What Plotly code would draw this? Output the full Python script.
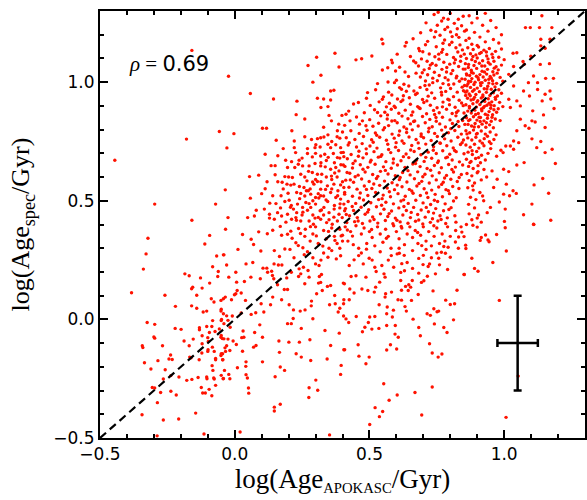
import plotly.graph_objects as go

# ---------------- data ----------------
# sparse lower-left region
pts_lowleft = [
    (-0.322, 0.342), (-0.329, 0.276), (-0.339, 0.212), (-0.383, 0.112), (-0.259, 0.102), (-0.220, 0.055), (-0.325, -0.013), (-0.297, -0.021), (-0.300, -0.074), (-0.297, -0.079),
    (-0.343, -0.111), (-0.341, -0.119), (-0.268, -0.111), (-0.221, -0.038), (-0.199, -0.042), (-0.238, -0.150), (-0.244, -0.167), (-0.232, -0.169), (-0.285, -0.174), (-0.335, -0.183),
    (-0.311, -0.209), (-0.258, -0.212), (-0.237, -0.237), (-0.207, -0.243), (-0.265, -0.251), (-0.306, -0.287), (-0.297, -0.289), (-0.275, -0.308), (-0.237, -0.303), (-0.217, -0.319),
    (-0.287, -0.351), (-0.344, -0.402), (-0.265, -0.424), (-0.208, -0.420), (-0.288, -0.491), (-0.185, 0.192), (-0.169, 0.184), (-0.160, 0.129), (-0.156, 0.136), (-0.127, 0.175),
    (-0.093, 0.354), (-0.111, 0.318), (-0.067, 0.267), (-0.042, 0.272), (-0.082, 0.222), (-0.061, 0.202), (-0.063, 0.181), (-0.093, 0.153), (-0.121, 0.132), (-0.141, 0.102),
    (-0.160, 0.057), (-0.141, 0.047), (-0.087, 0.087), (-0.077, 0.073), (-0.051, 0.080), (-0.042, 0.087), (-0.117, 0.031), (-0.104, 0.035), (-0.082, -0.005), (-0.051, 0.035),
    (-0.042, 0.024), (-0.050, -0.005), (-0.131, -0.035), (-0.131, -0.044), (-0.104, -0.030), (-0.085, -0.030), (-0.094, -0.055), (-0.073, -0.051), (-0.121, -0.069), (-0.100, -0.077),
    (-0.057, -0.040), (-0.051, -0.075), (-0.046, -0.081), (-0.188, -0.091), (-0.154, -0.083), (-0.169, -0.111), (-0.121, -0.103), (-0.098, -0.093), (-0.099, -0.128), (-0.100, -0.135),
    (-0.076, -0.135), (-0.083, -0.117), (-0.122, -0.142), (-0.167, -0.159), (-0.162, -0.162), (-0.132, -0.170), (-0.071, -0.165), (-0.071, -0.170), (-0.051, -0.152), (-0.045, -0.145),
    (-0.084, -0.195), (-0.081, -0.215), (-0.045, -0.170), (-0.178, -0.257), (-0.159, -0.253), (-0.136, -0.245), (-0.104, -0.243), (-0.103, -0.250), (-0.078, -0.247), (-0.076, -0.251),
    (-0.042, -0.249), (-0.071, -0.278), (-0.119, -0.310), (-0.109, -0.310), (-0.085, -0.322), (-0.095, -0.295), (-0.145, -0.395), (-0.114, -0.483), (-0.124, -0.287),
    (-0.159, 1.134), (-0.179, 0.760), (-0.057, 0.792), (-0.445, 0.671), (-0.297, 0.486), (-0.071, 0.486), (-0.159, 0.418),
]

# lower middle region
pts_lowmid = [
    (-0.034, 0.380), (0.029, 0.358), (-0.040, 0.272), (0.012, 0.295), (-0.030, 0.229), (0.061, 0.338), (0.070, 0.316), (0.089, 0.369), (0.121, 0.361), (0.141, 0.376),
    (0.169, 0.392), (0.174, 0.355), (0.196, 0.359), (0.208, 0.372), (0.237, 0.383), (0.244, 0.362), (0.262, 0.380), (0.097, 0.288), (0.147, 0.290), (0.166, 0.265),
    (0.186, 0.297), (0.205, 0.295), (0.227, 0.323), (0.253, 0.302), (0.042, 0.234), (0.067, 0.240), (0.105, 0.216), (0.119, 0.216), (0.146, 0.234), (0.162, 0.229),
    (0.175, 0.229), (0.122, 0.199), (0.137, 0.203), (-0.022, 0.178), (0.004, 0.199), (0.060, 0.178), (0.095, 0.171), (0.007, 0.157), (0.036, 0.160), (0.140, 0.185),
    (0.145, 0.171), (0.193, 0.175), (0.239, 0.213), (0.255, 0.220), (0.272, 0.206), (0.276, 0.178), (0.260, 0.150), (0.314, 0.181), (0.322, 0.189), (0.237, 0.181),
    (0.245, 0.192), (0.210, 0.199), (0.300, 0.234), (0.313, 0.227), (0.346, 0.262), (0.377, 0.255), (0.393, 0.268), (0.356, 0.143), (0.344, 0.139), (0.371, 0.101),
    (0.403, 0.153), (0.311, 0.153), (0.319, 0.156), (0.304, 0.108), (0.325, 0.122), (-0.035, 0.094), (0.004, 0.108), (0.009, 0.122), (-0.001, 0.104), (-0.012, 0.083),
    (0.024, 0.111), (0.040, 0.080), (-0.050, 0.043), (-0.030, 0.015), (-0.009, 0.014), (0.024, 0.027), (0.061, 0.021), (0.078, 0.028), (0.108, 0.031), (0.098, 0.066),
    (0.133, 0.062), (0.141, 0.094), (0.174, 0.083), (0.184, 0.126), (0.196, 0.126), (0.159, 0.146), (0.202, 0.062), (0.218, 0.040), (0.243, 0.035), (0.261, 0.040),
    (0.285, 0.077), (0.284, 0.057), (0.373, 0.066), (0.384, 0.031), (0.390, 0.047), (0.404, 0.066), (0.352, 0.062), (-0.049, 0.000), (-0.040, -0.018), (-0.025, -0.004),
    (-0.017, -0.033), (-0.050, -0.068), (-0.040, -0.082), (-0.025, -0.083), (-0.006, -0.091), (0.006, -0.106), (-0.036, -0.120), (-0.030, -0.111), (-0.050, -0.145), (-0.034, -0.135),
    (-0.018, -0.131), (-0.044, -0.170), (0.026, -0.077), (0.034, -0.075), (0.031, -0.049), (0.029, -0.134), (0.042, -0.179), (0.041, -0.198), (0.010, -0.204), (-0.038, -0.215),
    (-0.050, -0.236), (-0.022, -0.232), (-0.018, -0.250), (-0.043, -0.250), (0.042, -0.233), (0.047, -0.247), (0.051, -0.289), (0.052, -0.311), (0.074, -0.055), (0.093, -0.023),
    (0.070, -0.117), (0.079, -0.110), (0.103, -0.075), (0.103, -0.179), (0.164, -0.091), (0.166, -0.139), (0.169, -0.201), (0.185, -0.215), (0.196, -0.018), (0.210, -0.018),
    (0.217, 0.004), (0.201, -0.096), (0.228, -0.145), (0.240, -0.096), (0.247, -0.038), (0.247, -0.159), (0.279, -0.086), (0.282, -0.173), (0.290, 0.003), (0.335, -0.047),
    (0.343, -0.167), (0.356, -0.110), (0.388, -0.058), (0.405, -0.128), (0.395, -0.194), (0.393, -0.232), (0.276, -0.288), (0.308, -0.299), (0.275, -0.329), (0.301, -0.256),
    (0.150, -0.242), (0.147, -0.370), (0.147, -0.386), (0.169, -0.358), (0.020, -0.475), (0.352, -0.487),
    (0.28, 0.33), (0.29, 0.36), (0.30, 0.39), (0.31, 0.32), (0.33, 0.375), (0.34, 0.34), (0.35, 0.30), (0.36, 0.385), (0.37, 0.35), (0.38, 0.32),
    (0.39, 0.38), (0.27, 0.285), (0.33, 0.28), (0.36, 0.29), (0.39, 0.30), (0.22, 0.26), (0.29, 0.26), (0.32, 0.25), (0.40, 0.33), (0.26, 0.35),
]

# lower right region
pts_lowright = [
    (0.852, 0.189), (0.825, 0.123), (0.800, 0.063), (0.816, 0.066), (0.783, 0.081), (0.812, -0.002), (0.739, 0.045), (0.751, 0.032), (0.757, 0.035), (0.714, 0.024),
    (0.726, 0.017), (0.741, -0.019), (0.776, -0.034), (0.788, -0.055), (0.736, 0.120), (0.693, 0.156), (0.702, 0.163), (0.715, 0.182), (0.681, 0.105), (0.662, 0.001),
    (0.683, -0.034), (0.689, -0.069), (0.723, -0.103), (0.733, -0.142), (0.755, -0.159), (0.769, -0.146), (0.733, -0.285), (0.669, -0.308), (0.694, -0.403), (0.646, 0.146),
    (0.659, 0.164), (0.653, 0.136), (0.634, 0.139), (0.644, 0.122), (0.619, 0.123), (0.619, 0.081), (0.606, 0.083), (0.582, 0.115), (0.560, 0.108), (0.558, 0.094),
    (0.656, 0.080), (0.632, 0.054), (0.637, 0.035), (0.616, 0.164), (0.616, 0.198), (0.630, 0.205), (0.536, 0.062), (0.566, 0.052), (0.589, 0.039), (0.564, 0.024),
    (0.585, 0.010), (0.520, 0.012), (0.501, 0.010), (0.496, -0.013), (0.483, -0.033), (0.474, -0.052), (0.509, -0.041), (0.535, -0.038), (0.564, -0.026), (0.596, -0.026),
    (0.595, -0.062), (0.607, -0.075), (0.578, -0.107), (0.564, -0.129), (0.601, -0.125), (0.451, 0.012), (0.404, 0.014), (0.413, 0.002), (0.423, -0.013), (0.405, 0.083),
    (0.425, 0.083), (0.443, 0.111), (0.427, 0.128), (0.408, -0.128), (0.458, -0.107), (0.461, -0.155), (0.487, -0.187), (0.499, -0.159), (0.553, -0.271), (0.603, -0.319),
    (0.573, -0.341), (0.521, -0.372), (0.549, -0.388), (0.537, -0.410), (0.501, -0.443), (0.518, 0.115), (0.523, 0.136), (0.494, 0.122), (0.538, 0.157), (0.554, 0.192),
    (0.558, 0.178), (0.525, 0.202), (0.472, 0.128), (0.487, 0.178), (0.450, 0.184), (0.432, 0.181), (0.407, 0.150), (0.477, 0.234), (0.499, 0.258), (0.460, 0.269),
    (0.425, 0.227), (0.443, 0.251), (0.520, 0.220), (0.546, 0.227), (0.581, 0.269), (0.603, 0.276), (0.629, 0.270), (0.683, 0.257), (0.699, 0.231), (0.723, 0.234),
    (0.757, 0.258), (0.782, 0.279), (0.800, 0.262), (0.792, 0.304), (0.819, 0.326), (0.831, 0.347), (0.843, 0.368), (0.683, 0.195), (0.718, 0.223), (0.745, 0.192),
    (0.767, 0.283),
    (0.41, 0.39), (0.43, 0.37), (0.45, 0.395), (0.47, 0.36), (0.48, 0.385), (0.50, 0.37), (0.51, 0.345), (0.53, 0.39), (0.54, 0.36), (0.56, 0.38),
    (0.57, 0.35), (0.59, 0.395), (0.60, 0.37), (0.61, 0.34), (0.62, 0.385), (0.64, 0.36), (0.65, 0.39), (0.66, 0.345), (0.67, 0.375), (0.69, 0.355),
    (0.70, 0.39), (0.71, 0.33), (0.72, 0.37), (0.74, 0.35), (0.75, 0.385), (0.76, 0.32), (0.77, 0.36), (0.79, 0.39), (0.80, 0.35), (0.82, 0.375),
    (0.83, 0.30), (0.84, 0.39), (0.42, 0.33), (0.44, 0.315), (0.46, 0.30), (0.49, 0.32), (0.52, 0.31), (0.55, 0.325), (0.58, 0.30), (0.63, 0.315),
    (0.66, 0.29), (0.68, 0.32), (0.71, 0.295), (0.73, 0.31), (0.75, 0.28), (0.40, 0.355), (0.47, 0.28), (0.54, 0.285), (0.61, 0.30), (0.78, 0.33),
    (0.64, 0.24), (0.66, 0.215), (0.59, 0.22), (0.51, 0.25), (0.57, 0.25), (0.62, 0.235), (0.70, 0.27), (0.73, 0.26), (0.76, 0.23), (0.79, 0.21),
    (0.884, 0.397), (0.900, 0.389), (1.004, 0.386), (1.110, 0.400), (0.851, 0.349), (0.931, 0.356), (0.915, 0.345), (0.911, 0.333), (0.940, 0.335), (0.944, 0.327),
    (0.972, 0.358), (0.857, 0.313), (0.858, 0.299), (1.008, 0.288), (0.880, 0.258), (0.958, 0.240), (0.890, 0.215), (0.903, 0.203), (0.851, 0.189), (0.982, 0.080),
    (1.052, -0.239), (1.007, -0.413),
    (0.618, 0.392), (0.679, 0.366), (0.739, 0.395), (0.508, 0.379), (0.563, 0.342), (0.437, 0.351), (0.694, 0.311), (0.611, 0.279), (0.489, 0.296), (0.776, 0.307),
]

# upper left / middle region (x < 0.45)
pts_upleft = [
    (-0.023, 1.025), (0.372, 1.122), (0.304, 1.105), (0.387, 1.064), (0.272, 1.070), (0.320, 1.029), (0.290, 1.000), (0.058, 0.952), (0.144, 0.929), (0.231, 0.920),
    (0.307, 0.932), (0.103, 0.806), (0.118, 0.806), (-0.003, 0.783), (-0.029, 0.723), (0.154, 0.755), (0.212, 0.795), (0.228, 0.863), (0.260, 0.845), (0.113, 0.696),
    (0.135, 0.648), (0.150, 0.648), (0.055, 0.602), (0.089, 0.608), (-0.035, 0.546), (0.058, 0.511), (0.113, 0.551), (-0.025, 0.429), (0.048, 0.429), (0.073, 0.436),
    (0.330, 0.929), (0.356, 0.963), (0.368, 0.966), (0.356, 0.925), (0.346, 0.897), (0.320, 0.893),
    (0.398, 0.860), (0.359, 0.837), (0.386, 0.823), (0.381, 0.795), (0.390, 0.764), (0.346, 0.778), (0.331, 0.769), (0.307, 0.762), (0.319, 0.766), (0.285, 0.758),
    (0.301, 0.736), (0.298, 0.724), (0.317, 0.727), (0.346, 0.738), (0.356, 0.724), (0.375, 0.736), (0.393, 0.724), (0.270, 0.699), (0.288, 0.685), (0.319, 0.689),
    (0.334, 0.696), (0.366, 0.699), (0.381, 0.682), (0.395, 0.703), (0.405, 0.686), (0.221, 0.752), (0.221, 0.724), (0.226, 0.703), (0.239, 0.671), (0.236, 0.654),
    (0.189, 0.671), (0.211, 0.665), (0.252, 0.647), (0.276, 0.647), (0.288, 0.619), (0.307, 0.612), (0.319, 0.647), (0.336, 0.643), (0.356, 0.633), (0.375, 0.640),
    (0.387, 0.626), (0.403, 0.651), (0.196, 0.640), (0.223, 0.640), (0.186, 0.602), (0.214, 0.598), (0.245, 0.612), (0.268, 0.584), (0.294, 0.570), (0.307, 0.581),
    (0.319, 0.549), (0.344, 0.563), (0.368, 0.570), (0.393, 0.567), (0.383, 0.542), (0.408, 0.535), (0.194, 0.570), (0.208, 0.566), (0.230, 0.535), (0.245, 0.531),
    (0.257, 0.556), (0.273, 0.542), (0.282, 0.528), (0.300, 0.514), (0.319, 0.521), (0.339, 0.503), (0.356, 0.535), (0.375, 0.514), (0.393, 0.507), (0.405, 0.486),
    (0.141, 0.521), (0.153, 0.488), (0.172, 0.521), (0.186, 0.497), (0.202, 0.502), (0.218, 0.465), (0.233, 0.486), (0.252, 0.472), (0.264, 0.493), (0.282, 0.472),
    (0.300, 0.486), (0.317, 0.458), (0.331, 0.472), (0.350, 0.450), (0.369, 0.465), (0.387, 0.443), (0.399, 0.429), (0.408, 0.458), (0.110, 0.465), (0.129, 0.443),
    (0.159, 0.450), (0.174, 0.436), (0.196, 0.443), (0.211, 0.422), (0.227, 0.429), (0.245, 0.415), (0.276, 0.415), (0.292, 0.401), (0.319, 0.422), (0.341, 0.408),
    (0.362, 0.401), (0.381, 0.415), (0.129, 0.427), (0.147, 0.422),
    (0.16, 0.58), (0.18, 0.55), (0.20, 0.60), (0.22, 0.57), (0.24, 0.56), (0.26, 0.60), (0.28, 0.55), (0.30, 0.59), (0.32, 0.58), (0.34, 0.60),
    (0.36, 0.59), (0.38, 0.60), (0.40, 0.58), (0.17, 0.47), (0.19, 0.41), (0.21, 0.48), (0.23, 0.45), (0.25, 0.44), (0.27, 0.46), (0.29, 0.44),
    (0.31, 0.43), (0.33, 0.44), (0.35, 0.42), (0.37, 0.48), (0.39, 0.47), (0.26, 0.52), (0.29, 0.50), (0.31, 0.53), (0.33, 0.52), (0.36, 0.55),
    (0.25, 0.68), (0.27, 0.72), (0.30, 0.70), (0.32, 0.66), (0.34, 0.67), (0.37, 0.66), (0.39, 0.68), (0.36, 0.75), (0.38, 0.77), (0.40, 0.79),
    (0.13, 0.49), (0.10, 0.53), (0.12, 0.58), (0.15, 0.61), (0.08, 0.46), (0.16, 0.69), (0.18, 0.72), (0.26, 0.77), (0.33, 0.81), (0.35, 0.86),
    (0.213, 0.342), (0.236, 0.311), (0.258, 0.273), (0.281, 0.391), (0.303, 0.352), (0.327, 0.309), (0.348, 0.371), (0.372, 0.333), (0.395, 0.352), (0.418, 0.377),
    (0.229, 0.418), (0.253, 0.452), (0.276, 0.488), (0.298, 0.427), (0.322, 0.461), (0.345, 0.497), (0.368, 0.431), (0.391, 0.487), (0.414, 0.442), (0.436, 0.476),
    (0.241, 0.509), (0.266, 0.542), (0.289, 0.579), (0.312, 0.512), (0.337, 0.548), (0.359, 0.604), (0.382, 0.521), (0.405, 0.556), (0.429, 0.588), (0.274, 0.624),
    (0.298, 0.657), (0.323, 0.612), (0.347, 0.683), (0.371, 0.617), (0.394, 0.652), (0.417, 0.619), (0.439, 0.657), (0.198, 0.532), (0.176, 0.578), (0.207, 0.473),
]

# main band, 0.40 < x < 0.86
pts_band = [
    (0.74, 1.285), (0.775, 1.27), (0.80, 1.29), (0.83, 1.265), (0.755, 1.295),
    (0.71, 1.25), (0.752, 1.24), (0.768, 1.258), (0.79, 1.232), (0.815, 1.248), (0.842, 1.238), (0.826, 1.225),
    (0.69, 1.208), (0.728, 1.219), (0.762, 1.198), (0.801, 1.212), (0.823, 1.20), (0.853, 1.215), (0.78, 1.222),
    (0.662, 1.183), (0.716, 1.172), (0.741, 1.19), (0.779, 1.178), (0.806, 1.168), (0.832, 1.189), (0.858, 1.176), (0.637, 1.167), (0.686, 1.132),
    (0.632, 1.152), (0.683, 1.142), (0.708, 1.158), (0.748, 1.149), (0.772, 1.138), (0.797, 1.158), (0.821, 1.145), (0.845, 1.136), (0.546, 1.181), (0.55, 1.162),
    (0.45, 1.094), (0.471, 1.099), (0.509, 1.11), (0.585, 1.082), (0.548, 1.051), (0.568, 1.061), (0.597, 1.047), (0.632, 1.043), (0.53, 0.994), (0.569, 1.001),
    (0.60, 1.008), (0.664, 1.089), (0.696, 1.04), (0.646, 0.984), (0.665, 0.963), (0.708, 1.005), (0.735, 0.998), (0.619, 0.97),
    (0.603, 1.118), (0.652, 1.108), (0.698, 1.128), (0.722, 1.119), (0.743, 1.107), (0.768, 1.126), (0.787, 1.117), (0.812, 1.104), (0.828, 1.127), (0.852, 1.118),
    (0.582, 1.093), (0.672, 1.082), (0.693, 1.098), (0.714, 1.088), (0.733, 1.079), (0.758, 1.097), (0.776, 1.084), (0.798, 1.076), (0.819, 1.095), (0.838, 1.088), (0.856, 1.078),
    (0.612, 1.063), (0.682, 1.068), (0.703, 1.052), (0.722, 1.058), (0.747, 1.071), (0.769, 1.054), (0.787, 1.062), (0.809, 1.049), (0.831, 1.066), (0.848, 1.055),
    (0.645, 1.024), (0.673, 1.038), (0.689, 1.022), (0.716, 1.031), (0.741, 1.042), (0.759, 1.028), (0.781, 1.019), (0.803, 1.036), (0.824, 1.025), (0.843, 1.014), (0.861, 1.03),
    (0.593, 0.998), (0.628, 0.991), (0.722, 0.988), (0.752, 1.006), (0.773, 0.994), (0.792, 1.009), (0.813, 0.992), (0.834, 1.004), (0.853, 0.986),
    (0.523, 0.968), (0.571, 0.958), (0.612, 0.977), (0.637, 0.962), (0.688, 0.978), (0.713, 0.969), (0.731, 0.955), (0.764, 0.976), (0.783, 0.961), (0.801, 0.973), (0.826, 0.958), (0.844, 0.979), (0.862, 0.963),
    (0.493, 0.956), (0.489, 0.932), (0.459, 0.914), (0.428, 0.837), (0.425, 0.745), (0.413, 0.865), (0.474, 0.837), (0.487, 0.816), (0.519, 0.884), (0.53, 0.872), (0.548, 0.928), (0.563, 0.896),
    (0.552, 0.938), (0.583, 0.946), (0.604, 0.929), (0.626, 0.943), (0.648, 0.934), (0.671, 0.948), (0.697, 0.927), (0.718, 0.941), (0.742, 0.932), (0.768, 0.946), (0.791, 0.928), (0.812, 0.939), (0.833, 0.924), (0.857, 0.944),
    (0.441, 0.908), (0.503, 0.902), (0.536, 0.917), (0.574, 0.911), (0.592, 0.899), (0.617, 0.918), (0.652, 0.907), (0.679, 0.897), (0.702, 0.914), (0.726, 0.903), (0.751, 0.892), (0.773, 0.916), (0.797, 0.905), (0.818, 0.894), (0.842, 0.912),
    (0.423, 0.878), (0.481, 0.871), (0.557, 0.873), (0.581, 0.886), (0.609, 0.869), (0.633, 0.882), (0.661, 0.874), (0.688, 0.889), (0.712, 0.867), (0.738, 0.881), (0.759, 0.871), (0.786, 0.886), (0.807, 0.868), (0.829, 0.879), (0.851, 0.87),
    (0.452, 0.853), (0.501, 0.842), (0.542, 0.858), (0.566, 0.845), (0.594, 0.838), (0.621, 0.857), (0.643, 0.846), (0.668, 0.836), (0.697, 0.855), (0.724, 0.843), (0.748, 0.835), (0.771, 0.852), (0.799, 0.841), (0.821, 0.858), (0.846, 0.838),
    (0.408, 0.818), (0.463, 0.823), (0.513, 0.814), (0.534, 0.827), (0.571, 0.817), (0.603, 0.829), (0.628, 0.811), (0.652, 0.824), (0.681, 0.815), (0.707, 0.829), (0.733, 0.812), (0.761, 0.824), (0.782, 0.811), (0.808, 0.826), (0.832, 0.813), (0.854, 0.822),
    (0.431, 0.795), (0.462, 0.784), (0.491, 0.797), (0.522, 0.786), (0.551, 0.799), (0.584, 0.781), (0.612, 0.794), (0.638, 0.788), (0.659, 0.799), (0.692, 0.782), (0.719, 0.791), (0.742, 0.784), (0.768, 0.798), (0.793, 0.787), (0.817, 0.796), (0.841, 0.781),
    (0.414, 0.766), (0.446, 0.758), (0.478, 0.771), (0.508, 0.757), (0.538, 0.768), (0.563, 0.755), (0.592, 0.764), (0.621, 0.752), (0.647, 0.769), (0.673, 0.758), (0.701, 0.766), (0.729, 0.754), (0.752, 0.771), (0.779, 0.761), (0.803, 0.752), (0.828, 0.768), (0.849, 0.756),
    (0.421, 0.735), (0.452, 0.727), (0.473, 0.741), (0.502, 0.731), (0.528, 0.722), (0.568, 0.738), (0.597, 0.726), (0.628, 0.742), (0.657, 0.733), (0.684, 0.721), (0.709, 0.739), (0.738, 0.728), (0.762, 0.744), (0.787, 0.732), (0.811, 0.723), (0.838, 0.737),
    (0.403, 0.704), (0.432, 0.695), (0.461, 0.709), (0.489, 0.698), (0.517, 0.707), (0.546, 0.694), (0.579, 0.703), (0.608, 0.712), (0.636, 0.697), (0.666, 0.708), (0.691, 0.694), (0.718, 0.705), (0.748, 0.699), (0.772, 0.711), (0.798, 0.696), (0.822, 0.707), (0.851, 0.698),
    (0.418, 0.677), (0.447, 0.668), (0.476, 0.681), (0.506, 0.671), (0.533, 0.684), (0.561, 0.665), (0.589, 0.676), (0.617, 0.669), (0.646, 0.682), (0.674, 0.671), (0.703, 0.666), (0.731, 0.679), (0.756, 0.668), (0.783, 0.681), (0.807, 0.672), (0.834, 0.664),
    (0.409, 0.645), (0.437, 0.638), (0.466, 0.652), (0.494, 0.641), (0.521, 0.654), (0.552, 0.643), (0.581, 0.637), (0.604, 0.651), (0.632, 0.641), (0.661, 0.655), (0.688, 0.644), (0.714, 0.636), (0.741, 0.649), (0.767, 0.639), (0.794, 0.653), (0.819, 0.642), (0.846, 0.651),
    (0.427, 0.616), (0.458, 0.608), (0.484, 0.621), (0.512, 0.611), (0.541, 0.624), (0.569, 0.613), (0.596, 0.606), (0.623, 0.619), (0.651, 0.609), (0.679, 0.622), (0.706, 0.612), (0.733, 0.605), (0.759, 0.618), (0.786, 0.607), (0.812, 0.621), (0.841, 0.611),
    (0.412, 0.587), (0.441, 0.578), (0.471, 0.592), (0.499, 0.581), (0.526, 0.594), (0.556, 0.583), (0.584, 0.576), (0.611, 0.589), (0.639, 0.579), (0.667, 0.593), (0.694, 0.582), (0.722, 0.575), (0.748, 0.588), (0.774, 0.578), (0.802, 0.591), (0.826, 0.581),
    (0.424, 0.557), (0.454, 0.549), (0.481, 0.562), (0.509, 0.552), (0.538, 0.565), (0.566, 0.554), (0.593, 0.547), (0.621, 0.559), (0.648, 0.548), (0.676, 0.562), (0.703, 0.551), (0.731, 0.545), (0.757, 0.558), (0.784, 0.547), (0.809, 0.56),
    (0.408, 0.528), (0.437, 0.519), (0.466, 0.533), (0.494, 0.522), (0.523, 0.535), (0.551, 0.524), (0.578, 0.517), (0.606, 0.53), (0.633, 0.519), (0.662, 0.532), (0.689, 0.522), (0.717, 0.514), (0.744, 0.527), (0.771, 0.517), (0.797, 0.53),
    (0.421, 0.497), (0.449, 0.489), (0.478, 0.503), (0.505, 0.492), (0.534, 0.505), (0.561, 0.494), (0.589, 0.487), (0.617, 0.499), (0.644, 0.489), (0.672, 0.502), (0.699, 0.491), (0.727, 0.484), (0.753, 0.497), (0.781, 0.487), (0.812, 0.499),
    (0.411, 0.467), (0.441, 0.459), (0.469, 0.473), (0.497, 0.462), (0.526, 0.475), (0.554, 0.464), (0.582, 0.457), (0.609, 0.47), (0.637, 0.459), (0.664, 0.472), (0.692, 0.461), (0.719, 0.454), (0.746, 0.467), (0.775, 0.458), (0.803, 0.471),
    (0.426, 0.437), (0.455, 0.429), (0.484, 0.443), (0.512, 0.432), (0.541, 0.445), (0.568, 0.434), (0.596, 0.427), (0.624, 0.44), (0.652, 0.429), (0.679, 0.442), (0.707, 0.431), (0.734, 0.424), (0.762, 0.437), (0.789, 0.428),
    (0.416, 0.408), (0.445, 0.412), (0.474, 0.404), (0.502, 0.415), (0.531, 0.406), (0.559, 0.417), (0.587, 0.403), (0.614, 0.411), (0.643, 0.405), (0.671, 0.414), (0.698, 0.402), (0.726, 0.409), (0.754, 0.415), (0.783, 0.404), (0.821, 0.41),
    (0.458, 0.415), (0.493, 0.452), (0.517, 0.421), (0.545, 0.481), (0.573, 0.446), (0.602, 0.418), (0.628, 0.476), (0.655, 0.451), (0.683, 0.419), (0.711, 0.472),
    (0.738, 0.448), (0.766, 0.421), (0.795, 0.463), (0.817, 0.437), (0.463, 0.512), (0.489, 0.548), (0.516, 0.571), (0.547, 0.509), (0.574, 0.538), (0.603, 0.566),
    (0.627, 0.504), (0.657, 0.541), (0.684, 0.573), (0.712, 0.533), (0.741, 0.502), (0.768, 0.569), (0.793, 0.542), (0.822, 0.513), (0.832, 0.552), (0.447, 0.601),
    (0.476, 0.633), (0.503, 0.663), (0.531, 0.603), (0.559, 0.628), (0.588, 0.659), (0.614, 0.598), (0.643, 0.627), (0.671, 0.657), (0.698, 0.601), (0.727, 0.629),
    (0.753, 0.661), (0.779, 0.596), (0.806, 0.632), (0.833, 0.598), (0.459, 0.688), (0.488, 0.719), (0.514, 0.747), (0.542, 0.687), (0.571, 0.716), (0.599, 0.745),
    (0.626, 0.686), (0.653, 0.714), (0.681, 0.744), (0.709, 0.683), (0.737, 0.713), (0.763, 0.742), (0.789, 0.684), (0.816, 0.712), (0.844, 0.745), (0.527, 0.776),
    (0.556, 0.808), (0.583, 0.836), (0.609, 0.776), (0.638, 0.803), (0.664, 0.834), (0.692, 0.772), (0.721, 0.806), (0.747, 0.851), (0.776, 0.777), (0.802, 0.804),
    (0.829, 0.834), (0.567, 0.862), (0.596, 0.893), (0.624, 0.925), (0.656, 0.861), (0.684, 0.892), (0.713, 0.921), (0.742, 0.864), (0.771, 0.896), (0.796, 0.925),
    (0.823, 0.872), (0.848, 0.901), (0.677, 0.953), (0.706, 0.986), (0.735, 1.017), (0.767, 0.958), (0.794, 0.989), (0.822, 1.018), (0.849, 0.964), (0.726, 1.072),
    (0.757, 1.118), (0.786, 1.043), (0.815, 1.081), (0.839, 1.109), (0.773, 1.164), (0.807, 1.192), (0.836, 1.157), (0.746, 1.213), (0.792, 1.265), (0.848, 1.278),
]

# dense old-star clump, 0.85 < x < 1.0
pts_clump = [
    (0.87, 1.28), (0.90, 1.27), (0.93, 1.29), (0.88, 1.25), (0.92, 1.24), (0.95, 1.26), (0.97, 1.23), (0.86, 1.22), (0.89, 1.21), (0.94, 1.215),
    (0.99, 1.20), (0.91, 1.19), (0.87, 1.185), (0.96, 1.18), (0.93, 1.17), (0.88, 1.16), (0.98, 1.165), (0.90, 1.155),
    (0.865, 1.145), (0.885, 1.138), (0.905, 1.148), (0.925, 1.135), (0.945, 1.142), (0.968, 1.13), (0.99, 1.14), (0.875, 1.12), (0.895, 1.115), (0.915, 1.125),
    (0.935, 1.11), (0.955, 1.118), (0.98, 1.105), (0.86, 1.10), (0.88, 1.095), (0.90, 1.102), (0.92, 1.09), (0.94, 1.098), (0.962, 1.088), (1.0, 1.095),
    (0.868, 1.075), (0.888, 1.07), (0.908, 1.08), (0.928, 1.068), (0.948, 1.076), (0.97, 1.065), (0.99, 1.072), (0.855, 1.055), (0.878, 1.05), (0.898, 1.058),
    (0.918, 1.046), (0.938, 1.054), (0.958, 1.044), (0.978, 1.052),
    (0.86, 1.035), (0.872, 1.028), (0.885, 1.038), (0.897, 1.025), (0.91, 1.032), (0.922, 1.022), (0.935, 1.034), (0.948, 1.024), (0.962, 1.03), (0.985, 1.02),
    (0.855, 1.012), (0.868, 1.004), (0.88, 1.015), (0.892, 1.0), (0.905, 1.01), (0.918, 0.998), (0.93, 1.008), (0.943, 0.996), (0.957, 1.006), (0.972, 0.995), (0.995, 1.004),
    (0.862, 0.985), (0.875, 0.978), (0.888, 0.99), (0.90, 0.975), (0.913, 0.986), (0.926, 0.972), (0.939, 0.983), (0.952, 0.97), (0.966, 0.98), (0.98, 0.968),
    (0.857, 0.958), (0.87, 0.95), (0.883, 0.962), (0.895, 0.948), (0.908, 0.96), (0.921, 0.946), (0.934, 0.957), (0.947, 0.944), (0.96, 0.955), (0.975, 0.942), (0.99, 0.953),
    (0.864, 0.932), (0.877, 0.925), (0.89, 0.936), (0.902, 0.922), (0.915, 0.933), (0.928, 0.919), (0.941, 0.93), (0.954, 0.917), (0.968, 0.928), (0.983, 0.915),
    (0.858, 0.905), (0.871, 0.898), (0.884, 0.909), (0.897, 0.895), (0.91, 0.906), (0.923, 0.892), (0.936, 0.903), (0.95, 0.89), (0.963, 0.901), (0.978, 0.888), (0.995, 0.897),
    (0.865, 0.878), (0.878, 0.87), (0.891, 0.882), (0.904, 0.868), (0.917, 0.879), (0.93, 0.865), (0.944, 0.876), (0.957, 0.863), (0.972, 0.873),
    (0.86, 0.85), (0.873, 0.842), (0.886, 0.854), (0.899, 0.84), (0.912, 0.851), (0.925, 0.837), (0.938, 0.848), (0.952, 0.835), (0.967, 0.845), (0.985, 0.838),
    (0.866, 0.822), (0.879, 0.815), (0.892, 0.826), (0.905, 0.812), (0.918, 0.823), (0.932, 0.81), (0.946, 0.82), (0.96, 0.808),
    (0.858, 0.795), (0.872, 0.787), (0.886, 0.798), (0.90, 0.784), (0.915, 0.794), (0.93, 0.781), (0.948, 0.79), (0.97, 0.778),
    (0.865, 0.765), (0.88, 0.756), (0.895, 0.768), (0.91, 0.752), (0.926, 0.762), (0.945, 0.749), (0.962, 0.758),
    (0.858, 0.735), (0.874, 0.726), (0.89, 0.738), (0.906, 0.722), (0.925, 0.732), (0.95, 0.72),
    (0.866, 0.705), (0.882, 0.695), (0.898, 0.708), (0.916, 0.692), (0.94, 0.70), (0.972, 0.688),
    (0.86, 0.675), (0.877, 0.666), (0.894, 0.678), (0.912, 0.66), (0.93, 0.672),
    (0.868, 0.645), (0.885, 0.636), (0.903, 0.648), (0.925, 0.632),
    (0.862, 0.615), (0.88, 0.605), (0.90, 0.618), (0.935, 0.60),
    (0.87, 0.585), (0.89, 0.575), (0.915, 0.588),
    (0.865, 0.555), (0.885, 0.545), (0.91, 0.535), (0.875, 0.515), (0.895, 0.505), (0.92, 0.52),
    (0.868, 0.485), (0.89, 0.47), (0.87, 0.445), (0.905, 0.44), (0.88, 0.42), (0.915, 0.41), (0.86, 0.40),
    (0.867, 1.062), (0.893, 1.087), (0.917, 1.068), (0.941, 1.083), (0.963, 1.059), (0.879, 1.041), (0.903, 1.019), (0.927, 1.043), (0.952, 1.017), (0.974, 1.038),
    (0.866, 0.994), (0.889, 0.968), (0.912, 0.997), (0.936, 0.971), (0.958, 0.993), (0.874, 0.943), (0.899, 0.916), (0.921, 0.939), (0.944, 0.911), (0.967, 0.936),
    (0.871, 0.891), (0.894, 0.864), (0.916, 0.887), (0.939, 0.861), (0.962, 0.884), (0.868, 0.838), (0.889, 0.811), (0.911, 0.834), (0.934, 0.829), (0.955, 0.852),
    (0.884, 1.108), (0.909, 1.121), (0.934, 1.127), (0.958, 1.104), (0.876, 1.003), (0.943, 1.012), (0.886, 0.928), (0.951, 0.903), (0.907, 0.852), (0.927, 0.898),
    (0.897, 0.781), (0.919, 0.743), (0.881, 0.711), (0.938, 0.772), (0.873, 0.661), (0.903, 0.623), (0.883, 0.563), (0.905, 0.682), (0.862, 0.782), (0.951, 0.741),
]

# sparse right-hand outskirts, x > 1.0
pts_right = [
    (1.140, 1.280), (1.079, 1.230), (1.097, 1.230), (1.131, 1.230), (1.177, 1.230), (1.136, 1.181), (1.170, 1.181), (1.033, 1.122), (1.047, 1.124), (1.099, 1.109),
    (1.136, 1.153), (1.152, 1.143), (1.070, 1.087), (1.074, 1.075), (1.134, 1.075), (1.168, 1.078), (1.035, 1.066), (1.017, 1.033), (1.109, 1.026), (1.124, 0.998),
    (1.154, 1.016), (1.183, 1.016), (1.090, 0.998), (1.170, 0.963), (1.152, 0.949), (1.124, 0.969), (1.035, 0.984), (1.072, 0.963), (1.094, 0.942), (1.141, 0.921),
    (1.173, 0.929), (1.185, 0.889), (1.047, 0.921), (1.060, 0.900), (1.017, 0.928), (1.023, 0.893), (1.106, 0.879), (1.146, 0.862), (1.103, 0.837), (1.115, 0.832),
    (1.078, 0.816), (1.092, 0.806), (1.060, 0.844), (1.152, 0.809), (1.047, 0.795), (1.103, 0.761), (1.035, 0.752), (1.054, 0.745), (1.121, 0.724), (1.136, 0.750),
    (1.178, 0.717), (1.152, 0.703), (1.006, 0.731), (1.023, 0.731), (0.988, 0.713), (0.996, 0.703), (1.035, 0.717), (1.074, 0.661), (1.047, 0.651), (1.190, 0.657),
    (0.998, 0.633), (1.017, 0.623), (1.143, 0.594), (1.111, 0.567), (1.165, 0.532), (0.974, 0.591), (1.008, 0.570), (1.033, 0.542), (0.998, 0.528), (1.020, 0.521),
    (1.045, 0.531), (0.982, 0.495), (1.103, 0.486), (1.004, 0.465), (1.072, 0.441), (1.001, 0.413), (1.109, 0.401), (1.173, 0.418), (0.955, 0.626), (0.961, 0.556),
    (0.949, 0.472), (0.937, 0.450), (0.900, 0.427), (0.924, 0.500),
]

groups = [pts_lowleft, pts_lowmid, pts_lowright, pts_upleft, pts_band, pts_clump, pts_right]

# one-to-one line and the typical error bar
one_to_one = [-0.5, 1.3]
err_x, err_y = [1.05], [-0.10]
err_dx, err_dy = [0.075], [0.20]
rho_text = "0.69"

# ---------------- figure ----------------
x_age = [p[0] for g in groups for p in g]
y_age = [p[1] for g in groups for p in g]

fig = go.Figure()
fig.add_trace(go.Scatter(
    x=x_age, y=y_age, mode="markers",
    marker=dict(color="#ff1200", size=3.4, line=dict(width=0)),
    hoverinfo="skip", showlegend=False, cliponaxis=True))
fig.add_trace(go.Scatter(
    x=one_to_one, y=one_to_one, mode="lines",
    line=dict(color="black", width=2.2, dash="8px,5px"),
    hoverinfo="skip", showlegend=False))
fig.add_trace(go.Scatter(
    x=err_x, y=err_y, mode="markers",
    marker=dict(color="black", size=1),
    error_x=dict(type="data", array=err_dx, color="black", thickness=2.5, width=4),
    error_y=dict(type="data", array=err_dy, color="black", thickness=2.5, width=4),
    hoverinfo="skip", showlegend=False))

axis_common = dict(
    range=[-0.5, 1.3], dtick=0.5, tick0=0, tickformat=".1f",
    ticks="inside", ticklen=8, tickwidth=1.5, tickcolor="black",
    showline=True, linecolor="black", linewidth=2, mirror="ticks",
    showgrid=False, zeroline=False, automargin=False,
    tickfont=dict(family="DejaVu Sans", size=17, color="black"),
    minor=dict(dtick=0.1, tick0=0, ticks="inside", ticklen=4, tickwidth=1.5, tickcolor="black"),
)

fig.update_layout(
    width=587, height=500,
    margin=dict(l=100, r=2, t=11, b=62),
    paper_bgcolor="white", plot_bgcolor="white",
    xaxis=dict(axis_common,
               title=dict(text='log(Age<span style="font-size:21px">'
                               '<sub>APOKASC</sub></span>/Gyr)',
                          font=dict(family="Liberation Serif", size=27, color="black"),
                          standoff=4)),
    yaxis=dict(axis_common,
               title=dict(text="log(Age<sub>spec</sub>/Gyr)",
                          font=dict(family="Liberation Serif", size=26, color="black"),
                          standoff=16)),
    annotations=[dict(
        x=-0.40, y=1.078, xref="x", yref="y", xanchor="left", yanchor="middle",
        showarrow=False,
        text='<span style="font-family:Liberation Serif;font-style:italic">ρ</span>'
             '<span style="font-family:Liberation Serif"> = </span>' + rho_text,
        font=dict(family="DejaVu Sans", size=21, color="black"))],
)

fig.write_html("out.html",
               config={"displayModeBar": False},
               post_script="document.body.style.margin='0';"
                           "document.body.style.overflow='hidden';")
